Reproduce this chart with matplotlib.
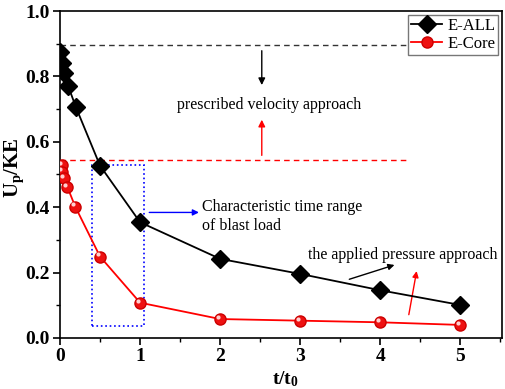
import numpy as np
import matplotlib
matplotlib.use("Agg")
import matplotlib.pyplot as plt
from matplotlib.patches import Rectangle
from matplotlib.transforms import ScaledTranslation

# Data
t_all = [0.0, 0.03, 0.05, 0.1, 0.2, 0.5, 1, 2, 3, 4, 5]
e_all = [0.876, 0.84, 0.81, 0.772, 0.705, 0.527, 0.354, 0.242, 0.196, 0.146, 0.101]
t_core = [0.02, 0.03, 0.05, 0.09, 0.19, 0.5, 1, 2, 3, 4, 5]
e_core = [0.529, 0.509, 0.488, 0.463, 0.402, 0.249, 0.108, 0.058, 0.053, 0.048, 0.040]

level_velocity_all = 0.896
level_velocity_core = 0.544

plt.rcParams['font.family'] = ['Liberation Serif', 'DejaVu Serif']
plt.rcParams['mathtext.fontset'] = 'custom'
plt.rcParams['mathtext.rm'] = 'Liberation Serif'
plt.rcParams['mathtext.it'] = 'Liberation Serif:italic'
plt.rcParams['mathtext.bf'] = 'Liberation Serif:bold'

fig = plt.figure(figsize=(5.05, 3.89), dpi=100)
ax = fig.add_axes([60 / 505, 1 - 338 / 389, 442 / 505, 327 / 389])

ax.plot(t_all, e_all, color='black', lw=1.3, marker='D', ms=9,
        mfc='black', mec='black', label='E-ALL', zorder=4)
ax.plot(t_core, e_core, color='red', lw=1.3, marker='o', ms=8,
        mfc='#ee1111', mec='#cc0000', label='E-Core', zorder=4)
# small highlight on the red spheres
hl = ax.transData + ScaledTranslation(-1.5 / 72, 1.5 / 72, fig.dpi_scale_trans)
ax.plot(t_core, e_core, ls='none', marker='o', ms=3, mfc='#ffd0d0', mec='none',
        transform=hl, zorder=5)

# dashed reference levels
ax.plot([0, 4.35], [level_velocity_all] * 2, ls='--', color='#333333', lw=1.0, dashes=(4, 3))
ax.plot([0, 4.35], [level_velocity_core] * 2, ls='--', color='red', lw=1.0, dashes=(4, 3))

# blue dotted box
ax.add_patch(Rectangle((0.4, 0.038), 0.65, 0.492, fill=False, ec='blue',
                       ls=':', lw=1.2, zorder=3))

# annotations
ax.annotate('', xy=(2.52, 0.765), xytext=(2.52, 0.887),
            arrowprops=dict(arrowstyle='-|>', color='black', lw=1.0, mutation_scale=10))
ax.annotate('', xy=(2.52, 0.676), xytext=(2.52, 0.55),
            arrowprops=dict(arrowstyle='-|>', color='red', lw=1.0, mutation_scale=10))
ax.text(2.61, 0.713, 'prescribed velocity approach', ha='center', va='center', fontsize=11.5)

ax.annotate('', xy=(1.77, 0.384), xytext=(1.08, 0.384),
            arrowprops=dict(arrowstyle='-|>', color='blue', lw=1.0, mutation_scale=9))
ax.text(1.77, 0.372, 'Characteristic time range\nof blast load', ha='left', va='center',
        fontsize=11.5, linespacing=1.25)

ax.text(3.1, 0.254, 'the applied pressure approach', ha='left', va='center', fontsize=11.5)
ax.annotate('', xy=(4.21, 0.226), xytext=(3.58, 0.177),
            arrowprops=dict(arrowstyle='-|>', color='black', lw=1.0, mutation_scale=9))
ax.annotate('', xy=(4.46, 0.213), xytext=(4.35, 0.063),
            arrowprops=dict(arrowstyle='-|>', color='red', lw=1.0, mutation_scale=9))

ax.set_xlim(0, 5.52)
ax.set_ylim(0, 1.0)
ax.set_xticks([0, 1, 2, 3, 4, 5])
ax.set_xticks(np.arange(0.5, 5.6, 1.0), minor=True)
ax.set_yticks([0.0, 0.2, 0.4, 0.6, 0.8, 1.0])
ax.set_yticks(np.arange(0.1, 1.0, 0.2), minor=True)
ax.tick_params(which='major', direction='out', length=5, width=1.2, labelsize=14, pad=2.5)
ax.tick_params(which='minor', direction='out', length=3, width=1.0)
for lbl in ax.get_xticklabels() + ax.get_yticklabels():
    lbl.set_fontweight('bold')
for s in ax.spines.values():
    s.set_linewidth(1.2)

ax.set_xlabel(r'$\mathbf{t/t_0}$', fontsize=14)
ax.xaxis.set_label_coords(0.51, -0.095)
ax.set_ylabel(r'$\mathbf{U_p/KE}$', fontsize=15)
ax.yaxis.set_label_coords(-0.078, 0.52)

leg = ax.legend(loc='upper right', fontsize=12, frameon=True, fancybox=False,
                edgecolor='#555555', borderpad=0.15, handlelength=1.9,
                handletextpad=0.3, labelspacing=0.15, borderaxespad=0.25)
leg.get_frame().set_linewidth(1.0)

fig.savefig('out.png', dpi=100)
